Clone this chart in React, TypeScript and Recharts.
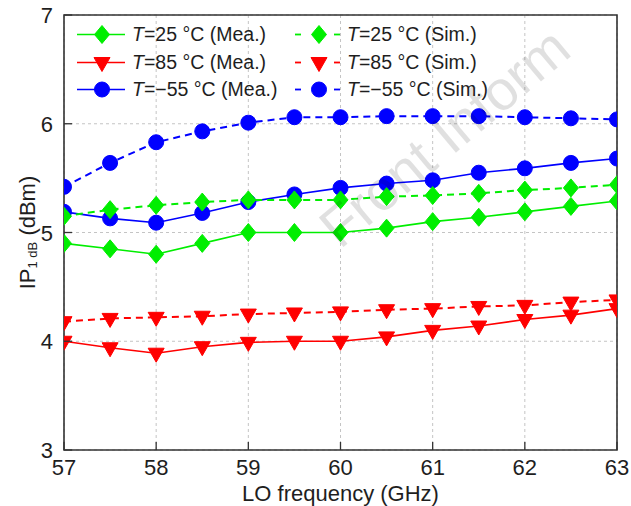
import React from 'react';
import { LineChart, Line, XAxis, YAxis, CartesianGrid, ReferenceArea } from 'recharts';

// LO frequency (GHz)
const freq = [57, 57.5, 58, 58.5, 59, 59.5, 60, 60.5, 61, 61.5, 62, 62.5, 63];
// IP1dB (dBm)
const t25Mea = [4.9, 4.85, 4.8, 4.9, 5.0, 5.0, 5.0, 5.04, 5.1, 5.14, 5.19, 5.24, 5.29];
const t25Sim = [5.15, 5.21, 5.25, 5.28, 5.3, 5.3, 5.3, 5.33, 5.34, 5.36, 5.39, 5.41, 5.44];
const t85Mea = [4.0, 3.94, 3.89, 3.95, 3.99, 4.0, 4.0, 4.04, 4.1, 4.14, 4.2, 4.24, 4.3];
const t85Sim = [4.18, 4.21, 4.22, 4.23, 4.25, 4.26, 4.27, 4.29, 4.3, 4.32, 4.33, 4.36, 4.38];
const tm55Mea = [5.19, 5.13, 5.09, 5.18, 5.28, 5.35, 5.41, 5.45, 5.48, 5.55, 5.59, 5.64, 5.68];
const tm55Sim = [5.42, 5.64, 5.83, 5.93, 6.01, 6.06, 6.06, 6.07, 6.07, 6.07, 6.06, 6.05, 6.04];

const xTicks = [57, 58, 59, 60, 61, 62, 63];
const yTicks = [3, 4, 5, 6, 7];

const data = freq.map((f, i) => ({
  f,
  t25Mea: t25Mea[i],
  t25Sim: t25Sim[i],
  t85Mea: t85Mea[i],
  t85Sim: t85Sim[i],
  tm55Mea: tm55Mea[i],
  tm55Sim: tm55Sim[i],
}));

const W = 631;
const H = 506;
const MARGIN = { top: 15, right: 14, left: 0, bottom: 0 };
const TICK = 8;
const FONT = '"Liberation Sans", Arial, Helvetica, sans-serif';
const TEXT = '#1e1e1e';
const AXIS = '#333';

const GREEN = '#00ee00';
const RED = '#ff0000';
const BLUE = '#0000ff';

type Shape = 'diamond' | 'triangle' | 'circle';

const Marker = ({ cx, cy, shape, color }: { cx: number; cy: number; shape: Shape; color: string }) => {
  if (shape === 'diamond') {
    return (
      <polygon
        points={`${cx},${cy - 9} ${cx + 7.5},${cy} ${cx},${cy + 9} ${cx - 7.5},${cy}`}
        fill={color}
        stroke={color}
      />
    );
  }
  if (shape === 'triangle') {
    return (
      <polygon
        points={`${cx - 8},${cy - 5} ${cx + 8},${cy - 5} ${cx},${cy + 9}`}
        fill={color}
        stroke={color}
      />
    );
  }
  return <circle cx={cx} cy={cy} r={7.5} fill={color} stroke={color} />;
};

// order follows the legend: rows by temperature, columns Mea. / Sim.
const series: { key: string; label: string; color: string; shape: Shape; dashed: boolean }[] = [
  { key: 't25Mea', label: '=25 °C (Mea.)', color: GREEN, shape: 'diamond', dashed: false },
  { key: 't25Sim', label: '=25 °C (Sim.)', color: GREEN, shape: 'diamond', dashed: true },
  { key: 't85Mea', label: '=85 °C (Mea.)', color: RED, shape: 'triangle', dashed: false },
  { key: 't85Sim', label: '=85 °C (Sim.)', color: RED, shape: 'triangle', dashed: true },
  { key: 'tm55Mea', label: '=−55 °C (Mea.)', color: BLUE, shape: 'circle', dashed: false },
  { key: 'tm55Sim', label: '=−55 °C (Sim.)', color: BLUE, shape: 'circle', dashed: true },
];

// draw green last so it sits on top
const drawOrder = ['t85Sim', 't85Mea', 'tm55Sim', 'tm55Mea', 't25Sim', 't25Mea'];

const XTick = ({ x, y, payload }: any) => (
  <g>
    <line x1={x} y1={y} x2={x} y2={y - TICK} stroke={AXIS} strokeWidth={1.3} />
    <text x={x} y={y + 25} textAnchor="middle" fontSize={22} fontFamily={FONT} fill={TEXT}>
      {payload.value}
    </text>
  </g>
);

const YTick = ({ x, y, payload }: any) => (
  <g>
    <line x1={x} y1={y} x2={x + TICK} y2={y} stroke={AXIS} strokeWidth={1.3} />
    <text x={x - 11} y={y} dy={8} textAnchor="end" fontSize={22} fontFamily={FONT} fill={TEXT}>
      {payload.value}
    </text>
  </g>
);

const YLabel = ({ viewBox }: any) => {
  const cx = viewBox.x + 35;
  const cy = viewBox.y + viewBox.height / 2;
  return (
    <text
      x={cx}
      y={cy}
      transform={`rotate(-90 ${cx} ${cy})`}
      textAnchor="middle"
      fontSize={22}
      fontFamily={FONT}
      fill={TEXT}
    >
      IP
      <tspan fontSize={13} dy={2}>1 dB</tspan>
      <tspan dy={-2}> (dBm)</tspan>
    </text>
  );
};

const LegendEntry = ({ s }: { s: (typeof series)[number] }) => (
  <div style={{ display: 'flex', alignItems: 'center', height: 27.5 }}>
    <svg width={52} height={27} style={{ display: 'block' }}>
      {s.dashed ? (
        <>
          <line x1={4} y1={13.5} x2={10} y2={13.5} stroke={s.color} strokeWidth={1.8} />
          <line x1={43} y1={13.5} x2={49} y2={13.5} stroke={s.color} strokeWidth={1.8} />
          <Marker cx={28} cy={13.5} shape={s.shape} color={s.color} />
        </>
      ) : (
        <>
          <line x1={1} y1={13.5} x2={49} y2={13.5} stroke={s.color} strokeWidth={1.5} />
          <Marker cx={26} cy={13.5} shape={s.shape} color={s.color} />
        </>
      )}
    </svg>
    <span style={{ marginLeft: 4, fontSize: 19.5, fontFamily: FONT, color: TEXT, whiteSpace: 'nowrap' }}>
      <i>T</i>
      {s.label}
    </span>
  </div>
);

const App = () => {
  return (
    <div style={{ position: 'absolute', left: 0, top: 0, width: W, height: H, background: '#fff' }}>
      <LineChart width={W} height={H} data={data} margin={MARGIN}>
        <CartesianGrid stroke="#c4c4c4" strokeDasharray="3 3" />
        <XAxis
          dataKey="f"
          type="number"
          domain={[57, 63]}
          ticks={xTicks}
          allowDataOverflow
          height={56}
          tickSize={0}
          tickMargin={0}
          tickLine={false}
          axisLine={false}
          tick={<XTick />}
          label={{
            value: 'LO frequency (GHz)',
            position: 'insideBottom',
            offset: 5,
            fontSize: 22,
            fontFamily: FONT,
            fill: TEXT,
          }}
        />
        <YAxis
          type="number"
          domain={[3, 7]}
          ticks={yTicks}
          allowDataOverflow
          width={64}
          tickSize={0}
          tickMargin={0}
          tickLine={false}
          axisLine={false}
          tick={<YTick />}
          label={<YLabel />}
        />
        {drawOrder.map((k) => {
          const s = series.find((e) => e.key === k)!;
          return (
            <Line
              key={s.key}
              dataKey={s.key}
              type="linear"
              stroke={s.color}
              strokeWidth={s.dashed ? 2 : 1.6}
              strokeDasharray={s.dashed ? '7 5' : undefined}
              dot={(p: any) => (
                <Marker key={`${s.key}-${p.index}`} cx={p.cx} cy={p.cy} shape={s.shape} color={s.color} />
              )}
              activeDot={false}
              isAnimationActive={false}
            />
          );
        })}
        <ReferenceArea x1={57} x2={63} y1={3} y2={7} fill="none" stroke={AXIS} strokeWidth={1.6} fillOpacity={0} />
      </LineChart>

      {/* legend */}
      <div
        style={{
          position: 'absolute',
          left: 76,
          top: 21,
          display: 'grid',
          gridTemplateColumns: '215px auto',
        }}
      >
        {series.map((s) => (
          <LegendEntry key={s.key} s={s} />
        ))}
      </div>

      {/* watermark */}
      <svg
        width={W}
        height={H}
        style={{ position: 'absolute', left: 0, top: 0, pointerEvents: 'none' }}
      >
        <text
          x={340}
          y={250}
          transform="rotate(-40 340 250)"
          fontSize={56}
          fontFamily={FONT}
          fill="#000"
          fillOpacity={0.12}
        >
          Front Inform
        </text>
      </svg>
    </div>
  );
};

export default App;
